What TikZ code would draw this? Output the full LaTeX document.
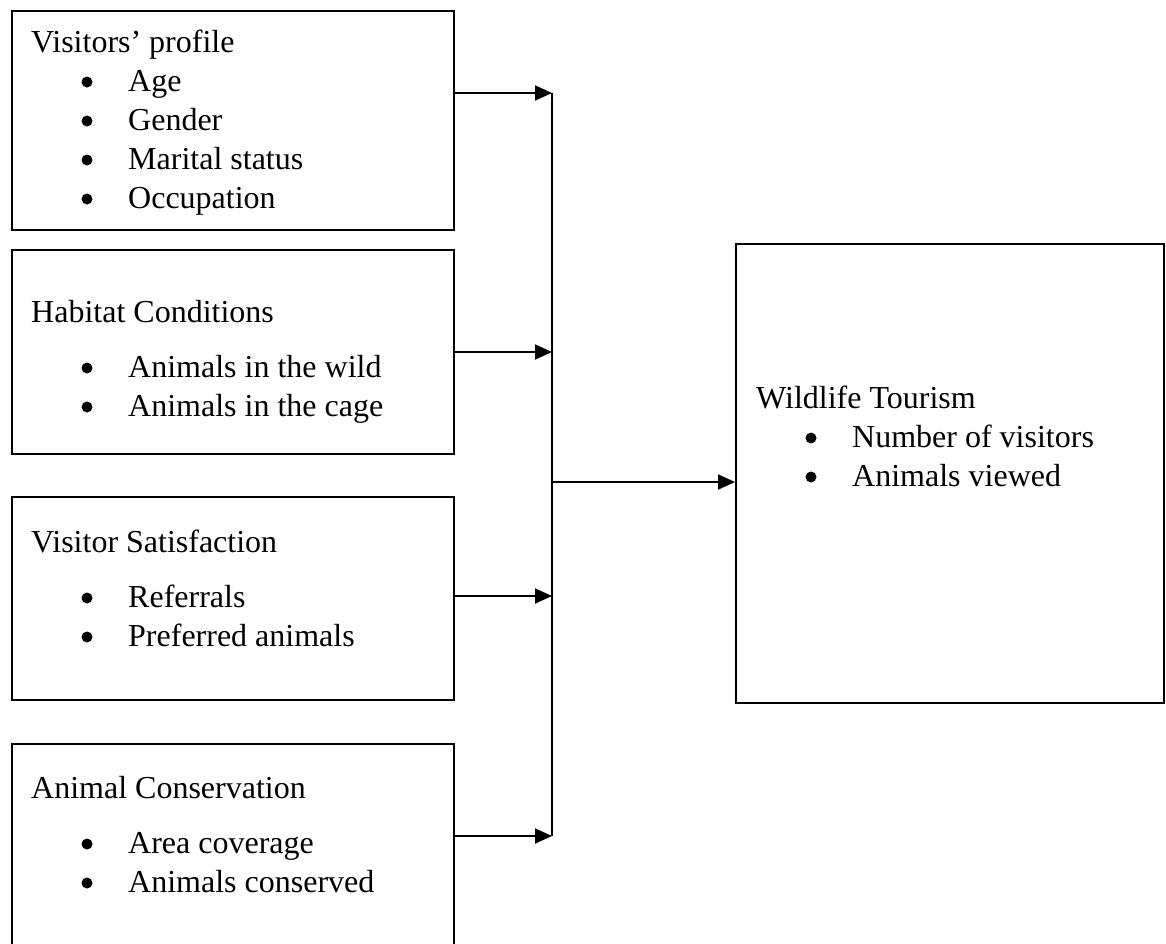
\documentclass[tikz,border=0pt]{standalone}
\usepackage{fontspec}
\setmainfont{Liberation Serif}
\usetikzlibrary{arrows.meta}
\newcommand\myitem[4]{%
  \node[bdot] (#1d) at (#2,#3-9) {};
  \node[lbl] (#1) at (#2+41,#3) {#4};}
\begin{document}
\begin{tikzpicture}[x=1pt,y=-1pt,
  box/.style={draw, line width=1.8pt, rectangle, inner sep=0pt, anchor=north west},
  lbl/.style={anchor=base west, inner sep=0pt, font=\fontsize{32}{39}\selectfont},
  arr/.style={line width=1.8pt, -{Triangle[length=17pt,width=15pt]}},
  conn/.style={line width=1.8pt},
  bdot/.style={circle, fill, inner sep=0pt, minimum size=11pt}
]
\useasboundingbox (0,0) rectangle (1166,943);
\clip (0,0) rectangle (1166,943);
% boxes
\node[box, minimum width=442pt, minimum height=219pt] (b1) at (11,10) {};
\node[box, minimum width=442pt, minimum height=204pt] (b2) at (11,249) {};
\node[box, minimum width=442pt, minimum height=203pt] (b3) at (11,496) {};
\node[box, minimum width=442pt, minimum height=230pt] (b4) at (11,743) {};
\node[box, minimum width=428pt, minimum height=459pt] (wt) at (735,243) {};
% box 1
\node[lbl] (t1) at (31,52) {Visitors’ profile};
\myitem{a1}{87}{91}{Age}
\myitem{a2}{87}{130}{Gender}
\myitem{a3}{87}{169}{Marital status}
\myitem{a4}{87}{208}{Occupation}
% box 2
\node[lbl] (t2) at (31,322) {Habitat Conditions};
\myitem{h1}{87}{377}{Animals in the wild}
\myitem{h2}{87}{416}{Animals in the cage}
% box 3
\node[lbl] (t3) at (31,552) {Visitor Satisfaction};
\myitem{s1}{87}{607}{Referrals}
\myitem{s2}{87}{646}{Preferred animals}
% box 4
\node[lbl] (t4) at (31,798) {Animal Conservation};
\myitem{c1}{87}{853}{Area coverage}
\myitem{c2}{87}{892}{Animals conserved}
% right box
\node[lbl] (t5) at (756,408) {Wildlife Tourism};
\myitem{w1}{811}{447}{Number of visitors}
\myitem{w2}{811}{486}{Animals viewed}
% connectors
\coordinate (j1) at (552,93);
\coordinate (j2) at (552,352);
\coordinate (j3) at (552,596);
\coordinate (j4) at (552,836);
\coordinate (jm) at (552,482);
\draw[conn] (j1) -- (j4);
\draw[arr] (b1.east |- j1) -- (j1);
\draw[arr] (b2.east |- j2) -- (j2);
\draw[arr] (b3.east |- j3) -- (j3);
\draw[arr] (b4.east |- j4) -- (j4);
\draw[arr] (jm) -- (wt.west |- jm);
\end{tikzpicture}
\end{document}
